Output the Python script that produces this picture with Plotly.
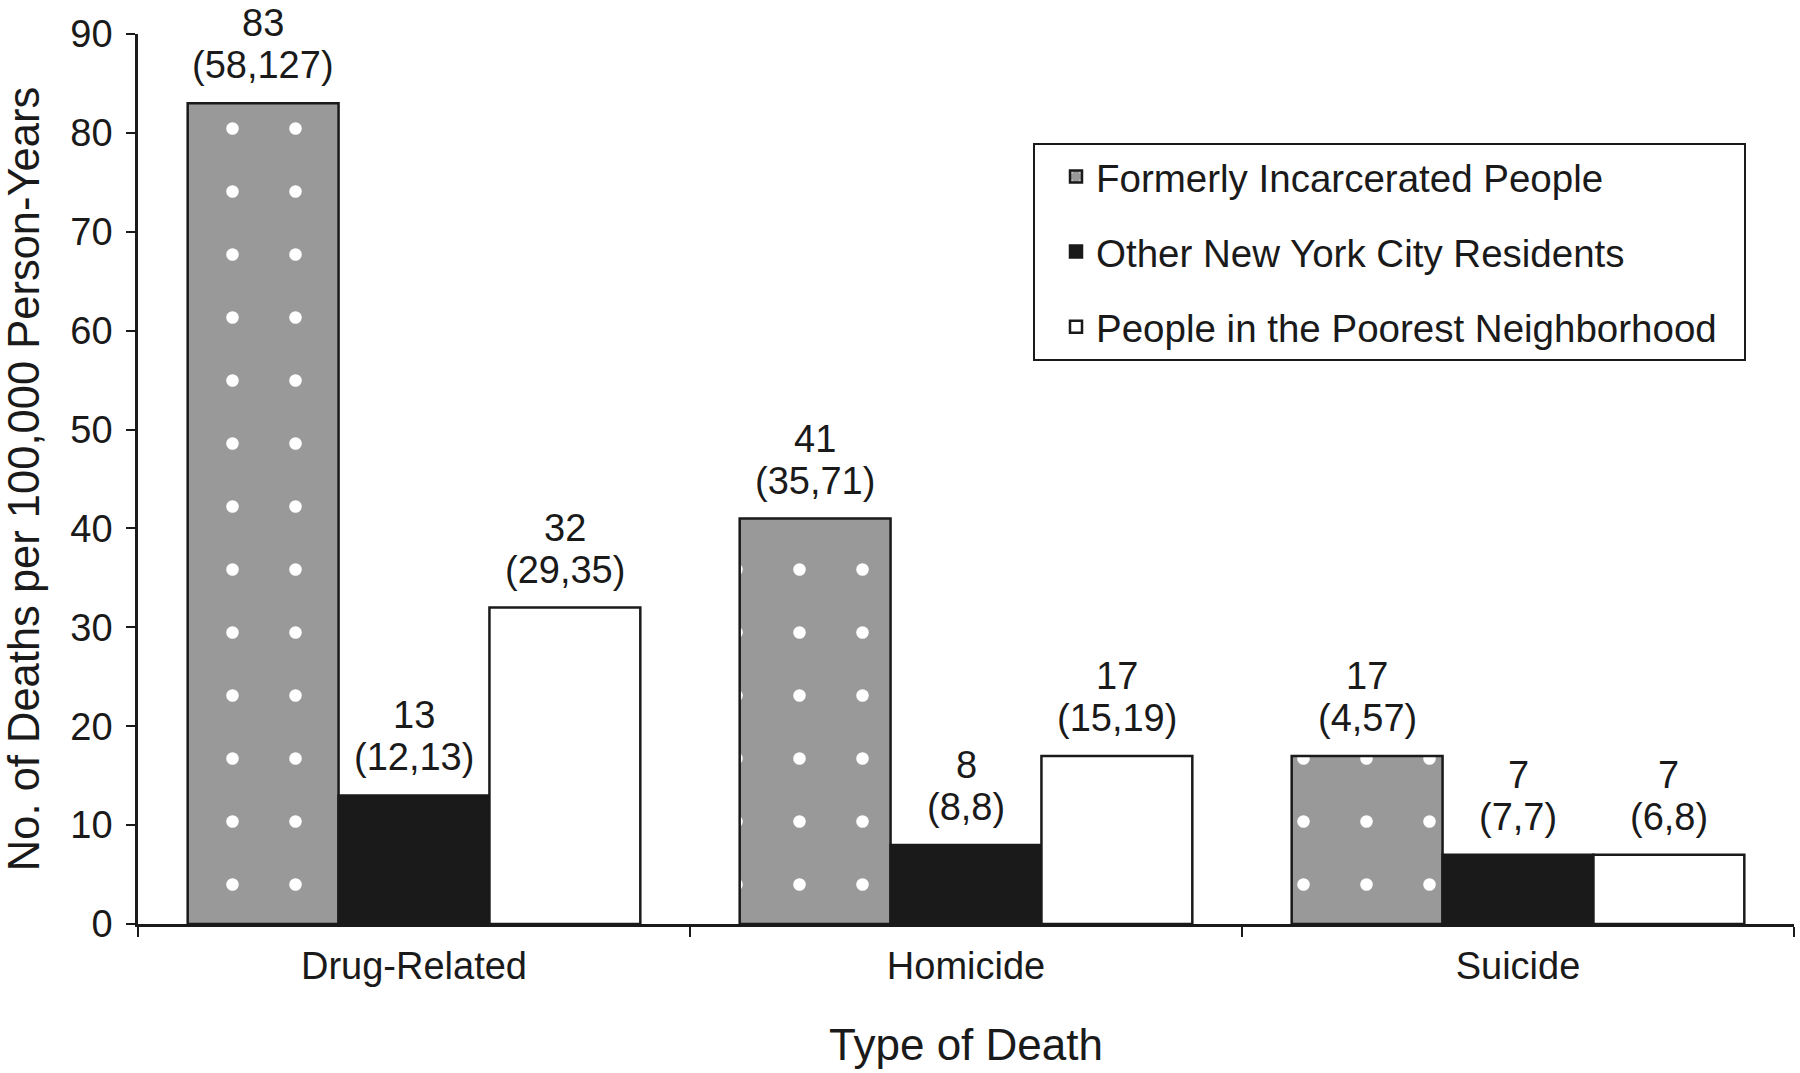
import plotly.graph_objects as go

categories = ["Drug-Related", "Homicide", "Suicide"]

series_names = [
    "Formerly Incarcerated People",
    "Other New York City Residents",
    "People in the Poorest Neighborhood",
]
formerly_rate = [83, 41, 17]
formerly_lo = [58, 35, 4]
formerly_hi = [127, 71, 57]

other_rate = [13, 8, 7]
other_lo = [12, 8, 7]
other_hi = [13, 8, 7]

poorest_rate = [32, 17, 7]
poorest_lo = [29, 15, 6]
poorest_hi = [35, 19, 8]

y_ticks = [0, 10, 20, 30, 40, 50, 60, 70, 80, 90]

FONT = "Liberation Sans, Arial, sans-serif"
INK = "#1a1a1a"
BARGAP = 0.18
LABEL_SIZE = 38
LEGEND_PAD = "\u00a0\u00a0"  # right padding inside the legend box

fig = go.Figure()

styles = [
    dict(color="#999999", pattern=dict(shape=".", fgcolor="white", fgopacity=1,
                                       size=63, solidity=0.031, fillmode="overlay")),
    dict(color="#1a1a1a"),
    dict(color="white"),
]
data = [
    (formerly_rate, formerly_lo, formerly_hi),
    (other_rate, other_lo, other_hi),
    (poorest_rate, poorest_lo, poorest_hi),
]

n_series = len(data)
bar_w = (1 - BARGAP) / n_series

for k, (name, (rate, lo, hi), st) in enumerate(zip(series_names, data, styles)):
    fig.add_trace(go.Bar(
        name=name + LEGEND_PAD,
        x=categories,
        y=rate,
        marker=dict(line=dict(color=INK, width=2.5), **st),
        legendgroup=f"g{k}",
        hoverinfo="skip",
    ))
    # value labels with confidence intervals, positioned on the data scale
    for i, (r, a, b) in enumerate(zip(rate, lo, hi)):
        xc = i + (k - (n_series - 1) / 2) * bar_w
        fig.add_annotation(
            x=xc, y=r, xref="x", yref="y", text=f"{r}",
            showarrow=False, xanchor="center", yanchor="middle", yshift=80,
            font=dict(family=FONT, size=LABEL_SIZE, color=INK),
        )
        fig.add_annotation(
            x=xc, y=r, xref="x", yref="y", text=f"({a},{b})",
            showarrow=False, xanchor="center", yanchor="middle", yshift=38,
            font=dict(family=FONT, size=LABEL_SIZE, color=INK),
        )

fig.update_layout(
    width=1800,
    height=1073,
    paper_bgcolor="white",
    plot_bgcolor="white",
    barmode="group",
    bargap=BARGAP,
    bargroupgap=0,
    margin=dict(l=138, r=6, t=34, b=149, autoexpand=False),
    font=dict(family=FONT, size=38, color=INK),
    showlegend=True,
    legend=dict(
        x=(1033 - 138) / 1656, y=(924 - 143) / 890, xanchor="left", yanchor="top",
        bordercolor=INK, borderwidth=2, bgcolor="white",
        font=dict(family=FONT, size=38.5, color=INK),
        traceorder="grouped", tracegroupgap=22,
        indentation=21,
    ),
    xaxis=dict(
        automargin=False,
        showline=True, linecolor=INK, linewidth=2.5,
        ticks="outside", tickson="boundaries", ticklen=10, tickwidth=2, tickcolor=INK,
        tickfont=dict(family=FONT, size=38, color=INK),
        ticklabelstandoff=7,
        title=dict(text="Type of Death", font=dict(family=FONT, size=44, color=INK), standoff=43),
        showgrid=False,
    ),
    yaxis=dict(
        automargin=False,
        range=[0, 90],
        tickvals=y_ticks,
        showline=True, linecolor=INK, linewidth=2.5,
        ticks="outside", ticklen=9, tickwidth=2, tickcolor=INK,
        tickfont=dict(family=FONT, size=38, color=INK),
        ticklabelstandoff=6,
        title=dict(text="No. of Deaths per 100,000 Person-Years",
                   font=dict(family=FONT, size=43.5, color=INK), standoff=34),
        showgrid=False, zeroline=False,
    ),
)

# remove the browser's default page margin so the figure fills the window exactly
fig.write_html("out.html", config={"displayModeBar": False},
               post_script="document.body.style.margin='0';")
